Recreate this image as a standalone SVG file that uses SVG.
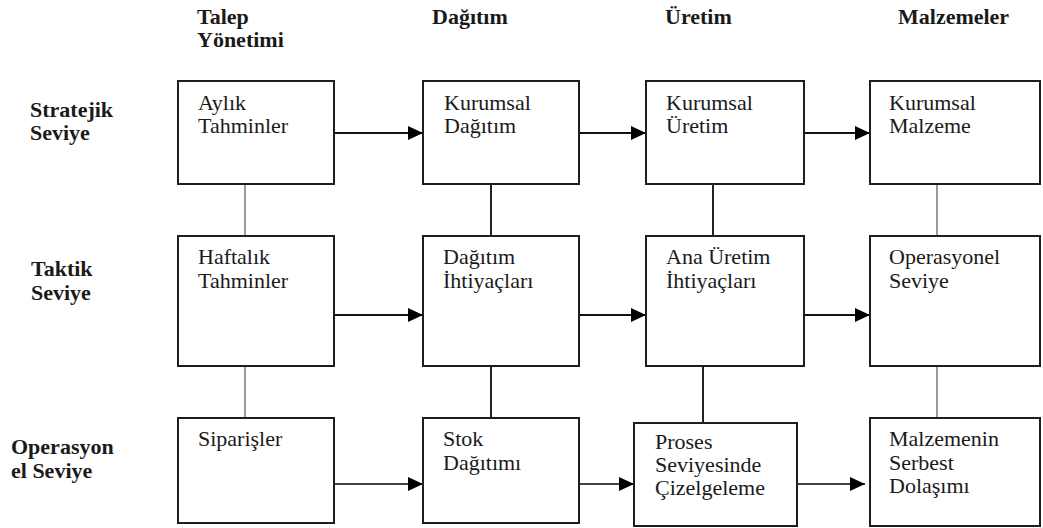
<svg xmlns="http://www.w3.org/2000/svg" width="1043" height="528" viewBox="0 0 1043 528">
  <style>
    .hdr { font-family: "Liberation Serif", "Times New Roman", serif; font-weight: bold; font-size: 22px; fill: #1a1a1a; }
    .lbl { font-family: "Liberation Serif", "Times New Roman", serif; font-size: 22px; fill: #1a1a1a; }
    .box { fill: #ffffff; stroke: #1e1e1e; stroke-width: 2; }
    .flow { stroke: #111111; stroke-width: 2; fill: none; }
    .flow-soft { stroke: #444444; stroke-width: 2; fill: none; }
    .link { stroke: #222222; stroke-width: 2; fill: none; }
    .link-gray { stroke: #9a9a9a; stroke-width: 2; fill: none; }
  </style>
  <defs>
    <marker id="arrow" markerUnits="userSpaceOnUse" markerWidth="16" markerHeight="14" refX="15" refY="7" orient="auto">
      <path d="M0,0 L15,7 L0,14 Z" fill="#000000"/>
    </marker>
  </defs>
  <rect width="1043" height="528" fill="#ffffff"/>

  <!-- column headers -->
  <g id="headers">
    <text class="hdr" x="197" y="24">Talep</text>
    <text class="hdr" x="197" y="47">Yönetimi</text>
    <text class="hdr" x="432" y="24">Dağıtım</text>
    <text class="hdr" x="665" y="24">Üretim</text>
    <text class="hdr" x="898" y="24">Malzemeler</text>
  </g>

  <!-- row labels -->
  <g id="levels">
    <text class="hdr" x="30" y="117">Stratejik</text>
    <text class="hdr" x="30" y="140">Seviye</text>
    <text class="hdr" x="31" y="276">Taktik</text>
    <text class="hdr" x="31" y="300">Seviye</text>
    <text class="hdr" x="11" y="454">Operasyon</text>
    <text class="hdr" x="11" y="478">el Seviye</text>
  </g>

  <!-- connectors -->
  <g id="connectors">
    <!-- vertical links between levels -->
    <line class="link-gray" x1="245" y1="184" x2="245" y2="236"/>
    <line class="link-gray" x1="245" y1="366" x2="245" y2="418"/>
    <line class="link" x1="491" y1="184" x2="491" y2="236"/>
    <line class="link" x1="491" y1="366" x2="491" y2="418"/>
    <line class="link" x1="713" y1="184" x2="713" y2="236"/>
    <line class="link" x1="703" y1="366" x2="703" y2="423"/>
    <line class="link-gray" x1="937" y1="184" x2="937" y2="236"/>
    <line class="link-gray" x1="937" y1="366" x2="937" y2="418"/>
    <!-- strategic flow -->
    <line class="flow" x1="334" y1="133" x2="423" y2="133" marker-end="url(#arrow)"/>
    <line class="flow" x1="579" y1="133" x2="646" y2="133" marker-end="url(#arrow)"/>
    <line class="flow" x1="804" y1="133" x2="870" y2="133" marker-end="url(#arrow)"/>
    <!-- tactical flow -->
    <line class="flow" x1="334" y1="315" x2="423" y2="315" marker-end="url(#arrow)"/>
    <line class="flow" x1="579" y1="315" x2="646" y2="315" marker-end="url(#arrow)"/>
    <line class="flow" x1="804" y1="315" x2="870" y2="315" marker-end="url(#arrow)"/>
    <!-- operational flow -->
    <line class="flow-soft" x1="334" y1="484" x2="423" y2="484" marker-end="url(#arrow)"/>
    <line class="flow-soft" x1="579" y1="484" x2="634" y2="484" marker-end="url(#arrow)"/>
    <line class="flow-soft" x1="797" y1="484" x2="865" y2="484" marker-end="url(#arrow)"/>
  </g>

  <!-- strategic level -->
  <g id="aylik-tahminler">
    <rect class="box" x="178" y="81" width="156" height="103"/>
    <text class="lbl" x="198" y="110">Aylık</text>
    <text class="lbl" x="198" y="133">Tahminler</text>
  </g>
  <g id="kurumsal-dagitim">
    <rect class="box" x="423" y="81" width="156" height="103"/>
    <text class="lbl" x="444" y="110">Kurumsal</text>
    <text class="lbl" x="444" y="133">Dağıtım</text>
  </g>
  <g id="kurumsal-uretim">
    <rect class="box" x="646" y="81" width="158" height="103"/>
    <text class="lbl" x="666" y="110">Kurumsal</text>
    <text class="lbl" x="666" y="133">Üretim</text>
  </g>
  <g id="kurumsal-malzeme">
    <rect class="box" x="870" y="81" width="170" height="103"/>
    <text class="lbl" x="889" y="110">Kurumsal</text>
    <text class="lbl" x="889" y="133">Malzeme</text>
  </g>

  <!-- tactical level -->
  <g id="haftalik-tahminler">
    <rect class="box" x="178" y="236" width="156" height="130"/>
    <text class="lbl" x="198" y="264">Haftalık</text>
    <text class="lbl" x="198" y="288">Tahminler</text>
  </g>
  <g id="dagitim-ihtiyaclari">
    <rect class="box" x="423" y="236" width="156" height="130"/>
    <text class="lbl" x="443" y="264">Dağıtım</text>
    <text class="lbl" x="443" y="288">İhtiyaçları</text>
  </g>
  <g id="ana-uretim-ihtiyaclari">
    <rect class="box" x="646" y="236" width="158" height="130"/>
    <text class="lbl" x="666" y="264">Ana Üretim</text>
    <text class="lbl" x="666" y="288">İhtiyaçları</text>
  </g>
  <g id="operasyonel-seviye">
    <rect class="box" x="870" y="236" width="170" height="130"/>
    <text class="lbl" x="889" y="264">Operasyonel</text>
    <text class="lbl" x="889" y="288">Seviye</text>
  </g>

  <!-- operational level -->
  <g id="siparisler">
    <rect class="box" x="178" y="418" width="156" height="105"/>
    <text class="lbl" x="198" y="446">Siparişler</text>
  </g>
  <g id="stok-dagitimi">
    <rect class="box" x="423" y="418" width="156" height="105"/>
    <text class="lbl" x="443" y="446">Stok</text>
    <text class="lbl" x="443" y="470">Dağıtımı</text>
  </g>
  <g id="proses-cizelgeleme">
    <rect class="box" x="634" y="423" width="163" height="103"/>
    <text class="lbl" x="655" y="449">Proses</text>
    <text class="lbl" x="655" y="472">Seviyesinde</text>
    <text class="lbl" x="655" y="495">Çizelgeleme</text>
  </g>
  <g id="serbest-dolasim">
    <rect class="box" x="870" y="418" width="170" height="108"/>
    <text class="lbl" x="889" y="446">Malzemenin</text>
    <text class="lbl" x="889" y="470">Serbest</text>
    <text class="lbl" x="889" y="493">Dolaşımı</text>
  </g>
</svg>
